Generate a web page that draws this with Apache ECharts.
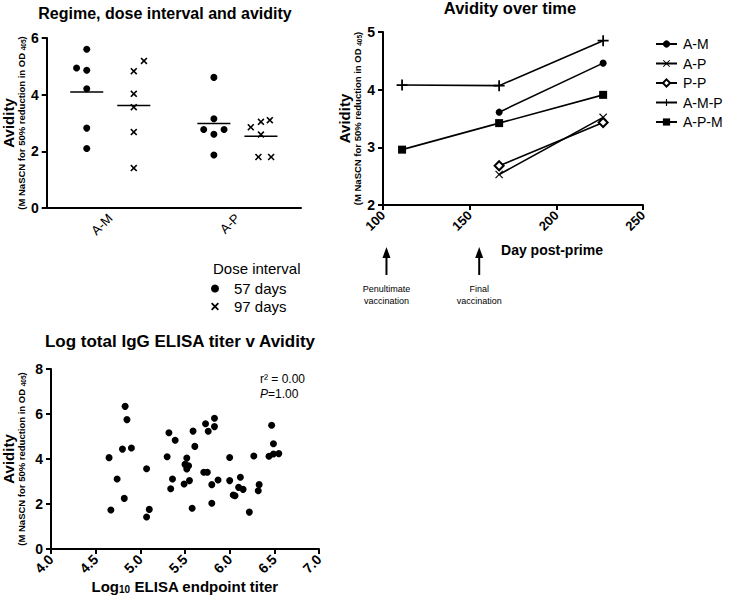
<!DOCTYPE html>
<html>
<head>
<meta charset="utf-8">
<script src="https://cdn.jsdelivr.net/npm/echarts@6.0.0/dist/echarts.min.js"></script>
<style>html,body{margin:0;padding:0;background:#fff}#main{width:729px;height:602px}</style>
</head>
<body>
<div id="main"></div>
<script>
// 左上：方案、间隔与亲和力
var regimes = ['A-M', 'A-P'];
var avid57 = [[5.60, 4.94, 4.86, 4.21, 2.82, 2.10], [4.61, 3.15, 2.77, 2.60, 2.77, 1.87]];
var jitter57 = [[0, -0.08, 0, 0, 0, 0], [0, 0, -0.08, 0, 0.08, 0]];
var avid97 = [[5.19, 4.83, 4.03, 3.56, 2.68, 1.41], [3.10, 3.04, 2.85, 2.59, 1.80, 1.80]];
var jitter97 = [[0.08, 0, 0, 0, 0, 0], [0.07, 0, -0.08, 0, -0.02, 0.08]];
var median57 = [4.09, 2.98];
var median97 = [3.62, 2.53];

// 右上：随时间变化
var days = [111, 167, 227];
var groups = ['A-M', 'A-P', 'P-P', 'A-M-P', 'A-P-M'];
var avidAM = [null, 3.61, 4.46];
var avidAP = [null, 2.53, 3.52];
var avidPP = [null, 2.68, 3.43];
var avidAMP = [4.08, 4.07, 4.85];
var avidAPM = [2.96, 3.42, 3.91];
var vaccDays = [102, 155.5];
var vaccLabels = ['Penultimate\nvaccination', 'Final\nvaccination'];

// 下：滴度 vs 亲和力
var titerLog = [4.65, 4.67, 4.74, 4.80, 4.82, 4.83, 4.85, 4.90, 5.07, 5.07,
    5.10, 5.30, 5.32, 5.34, 5.36, 5.39, 5.49, 5.50, 5.52, 5.52,
    5.54, 5.55, 5.58, 5.59, 5.61, 5.71, 5.73, 5.75, 5.76, 5.80,
    5.80, 5.83, 5.83, 5.87, 6.00, 6.00, 6.04, 6.06, 6.10, 6.12,
    6.15, 6.22, 6.27, 6.32, 6.33, 6.44, 6.47, 6.49, 6.49, 6.55];
var titerAvid = [4.06, 1.73, 3.11, 4.44, 2.25, 6.34, 5.75, 4.49, 1.42, 3.57,
    1.76, 4.10, 5.17, 2.68, 3.11, 4.83, 2.89, 3.76, 4.04, 3.56,
    3.70, 3.04, 1.81, 5.24, 4.56, 3.41, 5.57, 3.41, 5.23, 2.86,
    2.03, 5.81, 5.44, 3.07, 4.07, 3.04, 2.40, 2.37, 2.74, 3.19,
    2.65, 1.64, 4.13, 2.59, 2.86, 4.12, 5.50, 4.68, 4.22, 4.24];

var FONT = 'Liberation Sans, Arial, sans-serif';
var xCross = 'path://M0,1.6L1.6,0L5,3.4L8.4,0L10,1.6L6.6,5L10,8.4L8.4,10L5,6.6L1.6,10L0,8.4L3.4,5Z';
var xThin = 'path://M0,1L1,0L5,4L9,0L10,1L6,5L10,9L9,10L5,6L1,10L0,9L4,5Z';
var plus = 'path://M4.2,0H5.8V4.2H10V5.8H5.8V10H4.2V5.8H0V4.2H4.2Z';

var axisLine = {lineStyle: {color: '#000', width: 2}};
var axisTick = {length: 5, lineStyle: {color: '#000', width: 2}};
var labelStyle = {color: '#000', fontWeight: 'bold', fontSize: 14, fontFamily: FONT, margin: 8};

var yName = '{a|Avidity}\n{b|(M NaSCN for 50% reduction in OD }{c|405}{b|)}';
var yNameStyle = {
    rich: {
        a: {fontSize: 15, fontWeight: 'bold', color: '#000', fontFamily: FONT, lineHeight: 15},
        b: {fontSize: 9.5, fontWeight: 'bold', color: '#000', fontFamily: FONT, lineHeight: 11},
        c: {fontSize: 6.5, fontWeight: 'bold', color: '#000', fontFamily: FONT, verticalAlign: 'bottom'}
    }
};

function dotPoints(vals, jit, shift) {
    var out = [];
    vals.forEach(function (arr, c) {
        arr.forEach(function (v, i) {
            out.push([c + 0.5 + shift + jit[c][i], v]);
        });
    });
    return out;
}

function medianSeries(meds, shift) {
    return meds.map(function (m, c) {
        var x = c + 0.5 + shift;
        return {
            type: 'line', xAxisIndex: 1, yAxisIndex: 0, silent: true, symbol: 'none',
            lineStyle: {color: '#000', width: 1.5},
            data: [[x - 0.13, m], [x + 0.13, m]]
        };
    });
}

function pairs(arr) {
    return days.map(function (d, i) { return [d, arr[i]]; })
        .filter(function (p) { return p[1] !== null; });
}

var lineSymbols = [
    {symbol: 'circle', size: 7},
    {symbol: xThin, size: 8},
    {symbol: 'emptyDiamond', size: 9},
    {symbol: plus, size: 11},
    {symbol: 'rect', size: 8}
];
var lineData = [avidAM, avidAP, avidPP, avidAMP, avidAPM];
var dotStyle = {color: '#000', opacity: 1};

var series = [
    {
        name: '57 days', type: 'scatter', xAxisIndex: 1, yAxisIndex: 0,
        symbol: 'circle', symbolSize: 7, itemStyle: dotStyle,
        data: dotPoints(avid57, jitter57, -0.185)
    },
    {
        name: '97 days', type: 'scatter', xAxisIndex: 1, yAxisIndex: 0,
        symbol: xCross, symbolSize: 7, itemStyle: dotStyle,
        data: dotPoints(avid97, jitter97, 0.185)
    }
].concat(medianSeries(median57, -0.185), medianSeries(median97, 0.185));

groups.forEach(function (g, i) {
    series.push({
        name: g, type: 'line', xAxisIndex: 2, yAxisIndex: 1,
        symbol: lineSymbols[i].symbol, symbolSize: lineSymbols[i].size,
        lineStyle: {color: '#000', width: 1.6},
        itemStyle: {color: '#000', opacity: 1, borderColor: '#000', borderWidth: i === 2 ? 2 : 0},
        data: pairs(lineData[i])
    });
});

series.push({
    name: 'titer', type: 'scatter', xAxisIndex: 3, yAxisIndex: 2,
    symbol: 'circle', symbolSize: 7, itemStyle: dotStyle,
    data: titerLog.map(function (t, i) { return [t, titerAvid[i]]; })
});

function titleStyle(size) {
    return {color: '#000', fontWeight: 'bold', fontSize: size, fontFamily: FONT};
}

var myChart = echarts.init(document.getElementById('main'), null, {renderer: 'svg'});

myChart.setOption({
    animation: false,
    backgroundColor: '#fff',
    title: [
        {text: 'Regime, dose interval and avidity', left: 160, top: 0, textAlign: 'center', textStyle: titleStyle(16)},
        {text: 'Avidity over time', left: 505, top: -6, textAlign: 'center', textStyle: titleStyle(16.5)},
        {text: 'Log total IgG ELISA titer v Avidity', left: 175, top: 328, textAlign: 'center', textStyle: titleStyle(17)},
        {text: 'Dose interval', left: 208, top: 256, textStyle: {color: '#000', fontSize: 15, fontWeight: 'normal', fontFamily: FONT}}
    ],
    legend: [
        {
            data: ['57 days', '97 days'], orient: 'vertical', left: 206, top: 276,
            itemWidth: 20, itemHeight: 8, itemGap: 3,
            textStyle: {color: '#000', fontSize: 15, fontFamily: FONT, padding: [0, 0, 0, 4]}
        },
        {
            data: groups, orient: 'vertical', left: 655, top: 37, padding: 0,
            itemWidth: 21, itemHeight: 9, itemGap: 5.5,
            textStyle: {color: '#000', fontSize: 14, fontFamily: FONT, padding: [0, 0, 0, 1]}
        }
    ],
    grid: [
        {left: 44, top: 38, width: 257, height: 170},
        {left: 383, top: 32, width: 260, height: 173},
        {left: 49, top: 369, width: 270, height: 180}
    ],
    xAxis: [
        {
            type: 'category', gridIndex: 0, data: regimes,
            axisLine: axisLine, axisTick: {alignWithLabel: true, length: 5, lineStyle: {color: '#000', width: 2}},
            axisLabel: {color: '#000', fontSize: 13, fontFamily: FONT, rotate: 45, margin: 8},
            splitLine: {show: false}
        },
        {type: 'value', gridIndex: 0, min: 0, max: 2, show: false},
        {
            type: 'value', gridIndex: 1, min: 100, max: 250, interval: 50,
            axisLine: axisLine, axisTick: axisTick, splitLine: {show: false},
            axisLabel: Object.assign({rotate: 45}, labelStyle, {fontSize: 13})
        },
        {
            type: 'value', gridIndex: 2, min: 4, max: 7, interval: 0.5,
            axisLine: axisLine, axisTick: axisTick, splitLine: {show: false},
            axisLabel: Object.assign({rotate: 45, formatter: function (v) { return v.toFixed(1); }}, labelStyle),
            name: '{a|Log}{s|10}{a| ELISA endpoint titer}', nameLocation: 'middle', nameGap: 13,
            nameTextStyle: {
                rich: {
                    a: {fontSize: 15, fontWeight: 'bold', color: '#000', fontFamily: FONT},
                    s: {fontSize: 10, fontWeight: 'bold', color: '#000', fontFamily: FONT, verticalAlign: 'bottom', padding: [6, 0, 0, 0]}
                }
            }
        }
    ],
    yAxis: [
        {
            type: 'value', gridIndex: 0, min: 0, max: 6, interval: 2,
            axisLine: Object.assign({show: true}, axisLine), axisTick: Object.assign({show: true}, axisTick),
            axisLabel: labelStyle, splitLine: {show: false},
            name: yName, nameLocation: 'middle', nameRotate: 90, nameGap: 19, nameTextStyle: yNameStyle
        },
        {
            type: 'value', gridIndex: 1, min: 2, max: 5, interval: 1,
            axisLine: Object.assign({show: true}, axisLine), axisTick: Object.assign({show: true}, axisTick),
            axisLabel: labelStyle, splitLine: {show: false},
            name: yName, nameLocation: 'middle', nameRotate: 90, nameGap: 19, nameTextStyle: yNameStyle
        },
        {
            type: 'value', gridIndex: 2, min: 0, max: 8, interval: 2,
            axisLine: Object.assign({show: true}, axisLine), axisTick: Object.assign({show: true}, axisTick),
            axisLabel: labelStyle, splitLine: {show: false},
            name: yName, nameLocation: 'middle', nameRotate: 90, nameGap: 24, nameTextStyle: yNameStyle
        }
    ],
    series: series
});

// 注释：箭头、文字
var graphics = [
    {
        type: 'text', x: 552, y: 243,
        style: {text: 'Day post-prime', fill: '#000', font: 'bold 14px ' + FONT, textAlign: 'center'}
    },
    {
        type: 'text', x: 260, y: 371,
        style: {
            text: '{n|r² = 0.00}\n{i|P}{n|=1.00}', fill: '#000',
            rich: {
                n: {fontSize: 12, fontFamily: FONT, fill: '#000', lineHeight: 15},
                i: {fontSize: 12, fontFamily: FONT, fontStyle: 'italic', fill: '#000', lineHeight: 15}
            }
        }
    }
];
vaccDays.forEach(function (d, i) {
    var x = myChart.convertToPixel({xAxisIndex: 2}, d);
    graphics.push({
        type: 'line', shape: {x1: x, y1: 256, x2: x, y2: 275},
        style: {stroke: '#000', lineWidth: 2}
    });
    graphics.push({
        type: 'polygon', shape: {points: [[x - 4, 258], [x + 4, 258], [x, 247]]},
        style: {fill: '#000'}
    });
    graphics.push({
        type: 'text', x: x, y: 283,
        style: {text: vaccLabels[i], fill: '#000', font: '9px ' + FONT, textAlign: 'center', lineHeight: 12}
    });
});
myChart.setOption({graphic: graphics});
</script>
</body>
</html>
